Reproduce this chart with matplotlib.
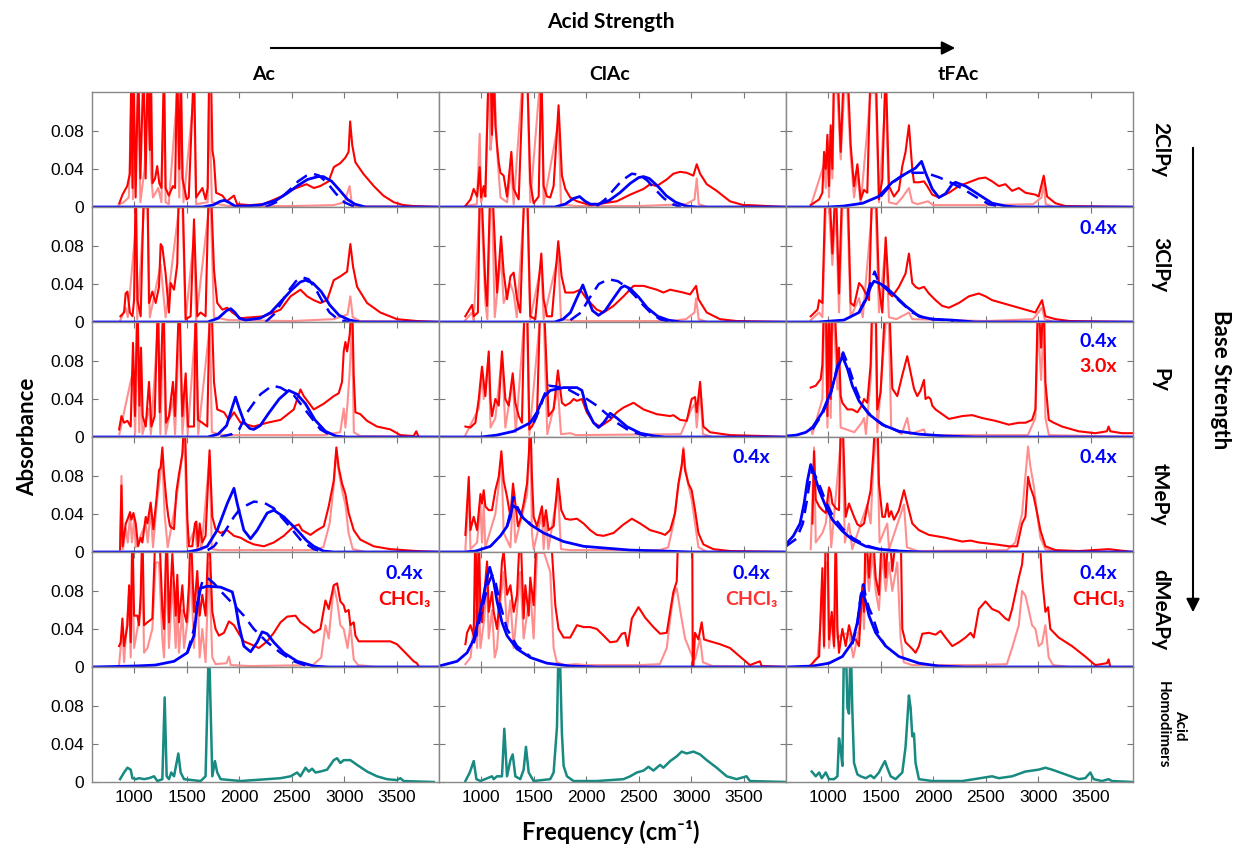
import numpy as np
import matplotlib.pyplot as plt

# Spectra: (frequency in cm-1, absorbance x 1000)
# values above 120 are off-scale peaks (clipped by the axis)

# ---------- Ac ----------
red_ac_2clpy = [(860,4),(890,13),(935,22),(960,35),(975,150),(985,20),(995,150),(1015,10),(1040,150),(1060,30),(1090,150),(1110,30),(1130,150),(1150,60),(1160,150),(1175,25),(1200,30),(1220,43),(1240,25),(1260,20),(1285,150),(1300,20),(1330,12),(1370,22),(1390,20),(1410,150),(1430,40),(1445,150),(1460,30),(1500,8),(1520,10),(1570,150),(1590,10),(1620,15),(1650,20),(1680,8),(1700,20),(1715,150),(1730,150),(1745,60),(1760,49),(1780,15),(1840,12),(1880,6),(1950,12),(1980,3),(2100,2),(2230,3),(2400,11),(2520,19),(2640,24),(2710,20),(2770,22),(2850,27),(2900,42),(2960,46),(3010,52),(3040,58),(3055,90),(3075,65),(3105,47),(3180,35),(3280,22),(3370,12),(3470,5),(3560,2),(3660,1),(3900,0)]
pink_ac_2clpy = [(850,2),(900,5),(950,10),(975,120),(990,8),(1040,120),(1060,5),(1100,40),(1130,120),(1160,36),(1180,10),(1230,20),(1260,5),(1285,120),(1300,5),(1330,3),(1410,120),(1430,10),(1445,120),(1470,5),(1570,120),(1590,3),(1700,5),(1715,120),(1740,5),(1800,3),(1900,1),(2500,1),(2900,2),(3000,5),(3050,22),(3070,4),(3100,1),(3900,0)]
blue_ac_2clpy = [(600,0),(1650,0),(1750,2),(1820,6),(1860,7),(1900,5),(1960,1),(2050,1),(2200,2),(2350,7),(2450,14),(2550,22),(2650,29),(2750,32),(2800,32),(2880,27),(2960,17),(3030,8),(3100,3),(3200,0),(3900,0)]
dash_ac_2clpy = [(2250,0),(2350,5),(2400,10),(2480,18),(2560,27),(2640,33),(2700,35),(2760,33),(2840,25),(2920,14),(3000,5),(3080,1),(3150,0)]

red_ac_3clpy = [(870,6),(905,10),(920,30),(937,32),(960,10),(985,6),(1000,23),(1016,150),(1032,23),(1063,6),(1095,150),(1127,150),(1142,20),(1174,32),(1206,20),(1237,37),(1253,82),(1269,79),(1300,51),(1332,10),(1348,41),(1380,34),(1411,61),(1427,150),(1459,150),(1491,3),(1538,6),(1570,108),(1601,6),(1633,10),(1680,6),(1712,150),(1728,150),(1760,55),(1791,20),(1840,13),(1886,15),(1934,10),(2013,4),(2234,6),(2393,13),(2488,27),(2582,34),(2646,27),(2709,23),(2772,20),(2836,23),(2899,44),(2962,48),(3026,53),(3057,82),(3083,58),(3121,37),(3216,20),(3342,10),(3500,3),(3690,1),(3900,0)]
pink_ac_3clpy = [(870,2),(920,15),(940,5),(1016,100),(1030,3),(1095,120),(1127,120),(1150,5),(1253,60),(1270,40),(1300,5),(1427,120),(1460,120),(1490,2),(1570,90),(1590,2),(1712,120),(1730,120),(1760,5),(1900,2),(2500,1),(2900,3),(3030,8),(3057,27),(3080,5),(3150,1),(3900,0)]
blue_ac_3clpy = [(600,0),(1700,0),(1800,4),(1880,12),(1920,14),(1960,10),(2000,4),(2060,2),(2200,4),(2300,10),(2400,22),(2500,34),(2580,42),(2630,44),(2700,41),(2780,32),(2860,18),(2950,7),(3050,2),(3150,0),(3900,0)]
dash_ac_3clpy = [(2250,0),(2330,8),(2400,20),(2470,33),(2540,43),(2600,47),(2660,45),(2720,36),(2790,22),(2860,10),(2950,2),(3050,0)]

red_ac_py = [(858,8),(880,22),(905,15),(937,17),(968,11),(990,99),(1009,22),(1032,150),(1051,33),(1066,94),(1082,22),(1111,11),(1142,58),(1165,11),(1196,22),(1228,150),(1244,26),(1279,150),(1304,15),(1332,22),(1370,58),(1389,22),(1430,150),(1459,22),(1491,67),(1513,11),(1570,11),(1586,150),(1608,18),(1649,15),(1696,11),(1722,150),(1734,150),(1760,58),(1791,29),(1855,26),(1902,18),(1950,26),(2013,15),(2076,13),(2139,11),(2266,15),(2393,18),(2519,29),(2582,50),(2614,43),(2709,29),(2804,35),(2899,43),(2946,46),(2978,58),(2994,90),(3010,100),(3026,90),(3051,108),(3073,150),(3089,65),(3105,26),(3152,24),(3216,17),(3310,11),(3437,8),(3532,2),(3659,1),(3684,6),(3706,0),(3900,0)]
pink_ac_py = [(860,3),(990,70),(1010,3),(1032,120),(1050,5),(1066,80),(1080,3),(1142,30),(1160,3),(1228,120),(1250,3),(1279,120),(1300,3),(1370,40),(1390,3),(1430,120),(1460,3),(1491,50),(1510,3),(1586,120),(1610,3),(1722,120),(1740,5),(1850,2),(2800,2),(2960,5),(2994,30),(3010,10),(3030,35),(3051,70),(3073,120),(3090,5),(3150,1),(3900,0)]
blue_ac_py = [(600,0),(1700,0),(1800,3),(1880,12),(1930,30),(1965,42),(2000,30),(2050,15),(2100,9),(2139,8),(2200,12),(2280,25),(2380,40),(2472,49),(2550,45),(2630,35),(2720,18),(2820,6),(2920,1),(3000,0),(3900,0)]
dash_ac_py = [(1820,0),(1930,3),(2000,8),(2076,26),(2140,36),(2203,45),(2313,54),(2393,52),(2519,44),(2646,26),(2772,8),(2867,2),(2950,0)]

red_ac_tmepy = [(867,3),(880,70),(892,6),(921,30),(937,34),(962,42),(975,34),(994,41),(1016,30),(1038,6),(1063,15),(1079,10),(1111,37),(1127,30),(1158,52),(1184,24),(1215,58),(1237,86),(1253,89),(1269,110),(1285,82),(1310,51),(1326,37),(1342,27),(1380,24),(1402,63),(1427,82),(1443,92),(1459,103),(1481,150),(1506,37),(1522,6),(1554,6),(1579,30),(1592,32),(1608,6),(1624,30),(1649,10),(1680,17),(1718,107),(1744,37),(1775,24),(1823,20),(1886,23),(1950,17),(2013,15),(2076,11),(2139,8),(2234,6),(2329,10),(2424,17),(2519,27),(2567,29),(2598,23),(2677,18),(2741,23),(2804,27),(2851,48),(2899,75),(2924,110),(2946,89),(2978,72),(3010,61),(3041,41),(3089,23),(3152,13),(3279,6),(3437,3),(3690,1),(3900,0)]
pink_ac_tmepy = [(867,2),(880,80),(895,3),(921,25),(940,10),(962,38),(980,10),(1000,35),(1016,5),(1111,30),(1130,10),(1158,45),(1180,5),(1215,50),(1253,85),(1269,100),(1290,40),(1320,5),(1402,55),(1443,90),(1481,120),(1506,5),(1580,25),(1600,3),(1624,20),(1640,2),(1718,100),(1740,3),(1800,2),(2700,2),(2800,5),(2860,30),(2899,70),(2924,105),(2946,85),(2978,65),(3010,50),(3040,20),(3080,3),(3200,0),(3900,0)]
blue_ac_tmepy = [(600,0),(1500,0),(1600,2),(1696,6),(1791,23),(1886,51),(1950,67),(1981,51),(2044,23),(2108,14),(2171,23),(2266,41),(2329,44),(2424,37),(2551,23),(2640,12),(2709,6),(2800,1),(2900,0),(3900,0)]
dash_ac_tmepy = [(1700,2),(1760,6),(1855,20),(1950,37),(2013,46),(2139,53),(2234,52),(2329,46),(2455,30),(2582,13),(2709,3),(2800,0)]

red_ac_dmeapy = [(858,22),(873,26),(889,51),(905,22),(937,44),(953,86),(968,26),(984,150),(1000,54),(1032,54),(1047,44),(1063,76),(1079,150),(1095,44),(1127,47),(1174,51),(1206,150),(1237,150),(1269,61),(1285,40),(1310,150),(1332,47),(1364,119),(1396,54),(1411,97),(1427,47),(1459,86),(1475,58),(1500,47),(1522,86),(1538,150),(1570,58),(1601,101),(1624,54),(1649,76),(1680,54),(1712,150),(1744,58),(1775,40),(1807,33),(1855,36),(1902,48),(1950,44),(1997,35),(2044,27),(2108,24),(2187,20),(2266,27),(2329,36),(2393,47),(2456,53),(2535,54),(2582,47),(2646,42),(2709,36),(2772,40),(2820,70),(2851,61),(2899,86),(2931,88),(2962,69),(2994,65),(3010,58),(3041,60),(3057,44),(3089,47),(3105,33),(3136,27),(3279,27),(3437,27),(3500,24),(3580,15),(3659,6),(3690,4),(3710,0),(3900,0)]
pink_ac_dmeapy = [(858,3),(889,40),(905,5),(953,80),(968,10),(984,110),(1000,20),(1063,60),(1079,110),(1095,15),(1127,20),(1174,40),(1206,110),(1237,110),(1269,30),(1285,10),(1310,110),(1332,20),(1364,90),(1396,20),(1411,70),(1427,15),(1459,60),(1475,20),(1522,60),(1538,110),(1570,20),(1601,90),(1624,10),(1649,40),(1680,5),(1712,110),(1744,10),(1775,3),(1880,4),(1902,11),(1920,2),(2100,1),(2700,2),(2780,10),(2820,44),(2851,30),(2899,85),(2931,70),(2962,44),(2994,40),(3030,20),(3057,44),(3089,8),(3130,2),(3300,0),(3900,0)]
blue_ac_dmeapy = [(600,0),(1000,1),(1200,2),(1380,6),(1506,15),(1570,33),(1601,65),(1633,83),(1696,85),(1823,84),(1934,79),(1965,65),(1997,44),(2044,22),(2108,16),(2171,26),(2218,37),(2266,35),(2329,26),(2424,15),(2551,6),(2709,1),(2850,0),(3900,0)]
dash_ac_dmeapy = [(1506,15),(1570,40),(1610,75),(1650,90),(1696,94),(1760,88),(1840,78),(1918,69),(2044,54),(2139,40),(2266,26),(2393,15),(2519,6),(2650,1)]

# ---------- ClAc ----------
red_clac_2clpy = [(850,1),(900,8),(930,19),(962,11),(987,42),(1000,10),(1025,22),(1041,11),(1073,150),(1089,150),(1104,76),(1120,150),(1136,86),(1152,65),(1168,47),(1184,36),(1215,33),(1247,11),(1288,58),(1310,19),(1358,8),(1405,150),(1437,150),(1468,26),(1500,4),(1548,11),(1573,150),(1595,22),(1627,11),(1658,10),(1690,22),(1737,107),(1769,33),(1801,19),(1848,10),(1912,6),(1975,4),(2038,2),(2165,4),(2291,6),(2418,13),(2545,19),(2608,24),(2671,22),(2766,29),(2829,35),(2893,37),(2956,36),(3019,33),(3051,45),(3083,35),(3146,24),(3241,17),(3367,6),(3494,2),(3541,2),(3900,0)]
pink_clac_2clpy = [(850,1),(960,3),(987,77),(1000,5),(1041,20),(1073,150),(1089,60),(1104,76),(1120,150),(1152,60),(1184,10),(1247,5),(1288,40),(1310,3),(1405,150),(1437,150),(1468,5),(1573,150),(1595,3),(1737,90),(1760,3),(1900,1),(2500,1),(2950,3),(3030,8),(3051,30),(3070,3),(3150,0),(3900,0)]
blue_clac_2clpy = [(600,0),(1700,0),(1800,3),(1880,9),(1937,11),(1990,6),(2040,3),(2120,3),(2220,7),(2320,15),(2420,25),(2500,31),(2545,32),(2600,30),(2680,22),(2760,12),(2850,5),(2950,1),(3050,0),(3900,0)]
dash_clac_2clpy = [(2100,1),(2180,8),(2260,18),(2340,28),(2434,35),(2500,34),(2580,28),(2660,18),(2740,9),(2820,3),(2900,0)]

red_clac_3clpy = [(850,6),(915,18),(930,6),(970,10),(990,150),(1000,150),(1041,38),(1057,17),(1089,150),(1104,150),(1152,31),(1190,90),(1215,52),(1247,24),(1279,48),(1310,52),(1342,24),(1373,10),(1414,150),(1437,150),(1468,6),(1516,3),(1573,72),(1595,24),(1627,6),(1674,6),(1734,85),(1766,48),(1801,31),(1880,31),(1943,34),(2006,24),(2101,13),(2165,10),(2260,17),(2355,27),(2450,38),(2545,38),(2671,34),(2734,31),(2798,34),(2924,31),(2988,29),(3045,38),(3067,24),(3146,10),(3272,3),(3430,1),(3900,0)]
pink_clac_3clpy = [(850,2),(915,10),(930,2),(990,130),(1000,130),(1041,20),(1060,3),(1089,130),(1104,130),(1130,5),(1190,70),(1215,20),(1280,40),(1310,30),(1340,5),(1414,130),(1437,130),(1468,3),(1573,60),(1595,3),(1734,70),(1760,3),(1900,1),(2800,1),(2950,3),(3030,10),(3045,25),(3070,3),(3150,0),(3900,0)]
blue_clac_3clpy = [(600,0),(1700,0),(1780,3),(1850,10),(1910,25),(1968,39),(2010,26),(2060,12),(2117,7),(2180,12),(2260,25),(2330,36),(2364,38),(2420,35),(2500,26),(2580,15),(2680,6),(2780,2),(2900,0),(3900,0)]
dash_clac_3clpy = [(1850,2),(1950,10),(2030,25),(2120,40),(2212,45),(2300,43),(2380,37),(2460,28),(2540,18),(2620,9),(2700,3),(2800,0)]

red_clac_py = [(851,11),(899,10),(946,15),(978,40),(994,58),(1009,74),(1025,58),(1041,43),(1073,90),(1089,40),(1104,22),(1136,40),(1168,33),(1199,90),(1231,40),(1263,33),(1301,67),(1326,36),(1358,22),(1389,15),(1415,150),(1437,150),(1459,8),(1484,11),(1532,22),(1565,150),(1595,150),(1642,22),(1690,29),(1731,70),(1769,36),(1801,33),(1848,36),(1880,40),(1912,38),(1959,40),(2006,26),(2070,15),(2133,11),(2228,18),(2291,26),(2355,31),(2450,36),(2545,29),(2671,24),(2798,22),(2829,23),(2893,18),(2956,17),(3003,40),(3035,42),(3051,26),(3083,58),(3114,11),(3178,5),(3367,2),(3684,1),(3900,0)]
pink_clac_py = [(851,2),(978,30),(994,50),(1009,70),(1025,40),(1073,85),(1090,10),(1136,20),(1199,85),(1231,10),(1301,60),(1330,5),(1415,130),(1437,130),(1459,2),(1565,130),(1595,130),(1630,3),(1731,50),(1760,3),(1850,4),(1900,2),(2900,3),(3003,30),(3035,35),(3051,10),(3083,50),(3110,3),(3200,0),(3900,0)]
blue_clac_py = [(600,0),(1000,0),(1150,2),(1310,6),(1468,15),(1532,26),(1595,42),(1658,49),(1785,52),(1912,52),(1959,49),(2006,29),(2070,15),(2117,10),(2165,15),(2228,25),(2291,20),(2386,11),(2513,4),(2650,1),(2750,0),(3900,0)]
dash_clac_py = [(1500,15),(1560,30),(1600,44),(1642,54),(1720,53),(1830,50),(1912,45),(2006,40),(2101,33),(2196,24),(2291,15),(2418,6),(2513,3),(2600,0)]

red_clac_tmepy = [(851,18),(883,79),(899,23),(930,37),(962,23),(994,61),(1009,51),(1025,65),(1041,48),(1073,44),(1104,44),(1136,65),(1168,79),(1193,106),(1215,75),(1247,58),(1279,37),(1304,72),(1326,51),(1351,27),(1373,34),(1405,51),(1437,72),(1456,106),(1468,150),(1484,79),(1500,37),(1532,27),(1579,48),(1595,27),(1617,44),(1642,23),(1690,27),(1731,77),(1763,44),(1801,35),(1848,34),(1912,35),(1975,30),(2038,23),(2101,18),(2165,17),(2260,20),(2355,29),(2434,35),(2513,30),(2608,23),(2703,20),(2750,18),(2798,23),(2845,41),(2877,72),(2909,92),(2924,108),(2940,86),(2972,72),(3003,65),(3035,44),(3067,20),(3114,8),(3209,3),(3367,1),(3900,0)]
pink_clac_tmepy = [(851,3),(883,70),(899,3),(962,10),(994,50),(1009,10),(1025,50),(1041,5),(1136,40),(1168,70),(1193,100),(1215,20),(1279,5),(1304,60),(1326,10),(1437,60),(1456,100),(1468,130),(1484,20),(1500,3),(1579,40),(1595,3),(1617,35),(1640,3),(1731,65),(1760,3),(1850,2),(2700,2),(2780,5),(2830,30),(2877,70),(2909,90),(2924,110),(2940,90),(2972,70),(3003,55),(3035,30),(3067,5),(3150,0),(3900,0)]
blue_clac_tmepy = [(600,0),(835,0),(950,1),(1089,6),(1184,17),(1247,27),(1279,37),(1300,49),(1342,46),(1389,37),(1468,29),(1595,20),(1785,11),(1975,6),(2196,4),(2420,2),(2730,1),(3000,0),(3900,0)]
dash_clac_tmepy = [(1247,27),(1279,42),(1310,58),(1342,48),(1389,38),(1468,30)]

red_clac_dmeapy = [(851,24),(867,36),(899,44),(930,33),(946,150),(962,33),(978,150),(994,58),(1009,47),(1025,69),(1057,111),(1073,58),(1104,79),(1120,58),(1152,40),(1184,83),(1199,111),(1215,122),(1247,76),(1279,86),(1310,58),(1342,76),(1373,150),(1405,51),(1421,86),(1453,54),(1468,94),(1500,65),(1532,150),(1658,150),(1706,65),(1737,40),(1785,31),(1848,31),(1912,44),(1975,42),(2038,42),(2101,40),(2165,33),(2228,26),(2291,27),(2339,35),(2370,36),(2395,22),(2434,51),(2497,63),(2560,52),(2639,42),(2703,35),(2766,36),(2798,58),(2829,79),(2861,90),(2877,150),(3008,150),(3013,1),(3019,1),(3035,36),(3067,29),(3098,47),(3120,29),(3178,27),(3272,24),(3367,20),(3462,11),(3557,2),(3652,6),(3668,1),(3900,0)]
pink_clac_dmeapy = [(851,3),(900,10),(946,60),(962,20),(978,80),(994,20),(1030,50),(1057,90),(1073,30),(1104,60),(1130,10),(1152,20),(1184,70),(1215,100),(1247,40),(1279,70),(1310,20),(1342,60),(1373,100),(1405,30),(1468,80),(1500,30),(1532,120),(1600,120),(1658,100),(1690,20),(1720,5),(1800,2),(1900,3),(2000,2),(2500,2),(2700,3),(2766,20),(2798,50),(2829,75),(2861,83),(2893,60),(2940,30),(3013,10),(3035,8),(3083,30),(3110,5),(3200,1),(3900,0)]
blue_clac_dmeapy = [(600,1),(772,6),(867,15),(930,29),(978,51),(1025,76),(1057,94),(1082,105),(1120,90),(1152,69),(1199,47),(1247,33),(1342,19),(1468,10),(1627,4),(1850,1),(2100,0),(3900,0)]
dash_clac_dmeapy = [(930,25),(978,45),(1025,68),(1070,88),(1104,97),(1140,88),(1184,65),(1247,40),(1342,22),(1468,11)]

# ---------- tFAc ----------
red_tfac_2clpy = [(835,2),(915,8),(946,15),(962,58),(978,40),(994,76),(1009,22),(1025,86),(1041,40),(1057,150),(1089,150),(1120,58),(1152,150),(1184,150),(1215,65),(1247,22),(1279,45),(1310,8),(1342,18),(1373,15),(1405,150),(1453,150),(1484,8),(1516,29),(1548,150),(1579,22),(1627,11),(1674,18),(1706,43),(1737,58),(1769,86),(1801,40),(1817,26),(1864,26),(1912,27),(1943,22),(1991,13),(2054,10),(2149,15),(2244,22),(2339,26),(2434,30),(2497,31),(2560,27),(2624,22),(2687,24),(2750,17),(2814,20),(2877,15),(2972,13),(3003,11),(3051,33),(3083,11),(3162,4),(3257,1),(3900,0)]
pink_tfac_2clpy = [(835,1),(962,45),(978,20),(994,70),(1009,10),(1025,80),(1041,30),(1057,120),(1089,120),(1120,50),(1152,120),(1184,120),(1215,55),(1247,10),(1279,35),(1310,3),(1405,120),(1453,120),(1484,5),(1548,120),(1579,5),(1650,3),(1706,10),(1769,20),(1800,5),(1850,3),(1950,6),(2000,2),(2500,2),(2950,3),(3030,10),(3051,25),(3070,3),(3150,0),(3900,0)]
blue_tfac_2clpy = [(600,0),(1000,0),(1150,1),(1330,4),(1480,11),(1610,26),(1737,35),(1832,41),(1889,48),(1927,36),(1991,19),(2054,10),(2117,14),(2181,24),(2212,26),(2307,22),(2434,13),(2560,4),(2690,1),(2800,0),(3900,0)]
dash_tfac_2clpy = [(1500,11),(1610,25),(1700,33),(1769,36),(1930,36),(2060,31),(2180,25),(2300,18),(2430,9),(2530,3),(2650,0)]

red_tfac_3clpy = [(835,6),(900,13),(915,23),(946,20),(978,150),(1009,150),(1041,72),(1073,150),(1104,30),(1136,150),(1184,150),(1215,20),(1247,17),(1295,41),(1326,37),(1358,30),(1390,23),(1420,150),(1453,150),(1484,37),(1516,10),(1548,89),(1579,30),(1611,27),(1674,37),(1737,51),(1769,72),(1801,41),(1832,37),(1864,35),(1912,37),(1959,30),(2022,23),(2085,17),(2149,15),(2244,20),(2339,27),(2434,30),(2497,27),(2560,23),(2655,20),(2750,17),(2877,13),(2972,10),(3035,23),(3067,6),(3162,3),(3300,1),(3900,0)]
pink_tfac_3clpy = [(835,2),(915,10),(946,5),(978,120),(1009,120),(1041,60),(1073,120),(1104,10),(1136,120),(1184,120),(1215,5),(1295,25),(1330,5),(1420,120),(1453,120),(1484,10),(1548,80),(1579,5),(1650,3),(1769,10),(1800,3),(2500,1),(2950,3),(3035,15),(3060,3),(3150,0),(3900,0)]
blue_tfac_3clpy = [(600,0),(900,0),(1150,2),(1294,10),(1358,23),(1405,37),(1437,43),(1484,41),(1548,37),(1643,27),(1737,17),(1864,6),(1990,3),(2180,2),(2400,0),(3900,0)]
dash_tfac_3clpy = [(1294,10),(1358,25),(1405,42),(1443,53),(1470,45),(1520,38),(1600,30),(1700,20),(1800,10),(1900,5),(2000,3),(2200,1)]

red_tfac_py = [(835,52),(883,54),(930,61),(946,76),(962,150),(978,150),(994,22),(1009,150),(1025,40),(1041,150),(1057,150),(1089,76),(1104,94),(1120,43),(1136,36),(1184,29),(1231,29),(1279,26),(1320,33),(1342,40),(1373,36),(1405,76),(1421,150),(1453,150),(1468,29),(1500,47),(1548,150),(1579,150),(1611,51),(1658,43),(1706,65),(1753,85),(1785,68),(1817,51),(1848,43),(1880,49),(1912,60),(1927,40),(1953,42),(1975,40),(1991,33),(2022,29),(2086,24),(2149,19),(2276,22),(2370,23),(2465,20),(2592,17),(2719,13),(2814,15),(2877,15),(2940,18),(2972,29),(2997,150),(3026,94),(3051,150),(3067,58),(3099,18),(3146,15),(3225,11),(3383,6),(3541,4),(3652,6),(3668,11),(3684,6),(3795,4),(3890,4)]
pink_tfac_py = [(835,10),(851,3),(946,40),(962,120),(978,120),(994,10),(1009,120),(1025,20),(1041,120),(1057,120),(1089,50),(1104,70),(1120,10),(1250,5),(1320,15),(1342,20),(1360,3),(1405,60),(1421,120),(1453,120),(1468,5),(1548,120),(1579,120),(1600,10),(1700,3),(1753,20),(1780,3),(1912,8),(1930,2),(2900,2),(2972,20),(2997,120),(3026,60),(3051,120),(3067,20),(3100,2),(3900,0)]
blue_tfac_py = [(600,1),(700,2),(790,5),(851,10),(946,26),(1025,47),(1089,72),(1136,85),(1184,72),(1231,54),(1294,38),(1389,24),(1516,13),(1674,6),(1864,3),(2117,1),(2400,0),(3900,0)]
dash_tfac_py = [(851,8),(946,24),(1025,45),(1089,75),(1143,89),(1190,76),(1263,51),(1326,33),(1420,21),(1550,11),(1700,5)]

red_tfac_tmepy = [(851,30),(867,106),(883,55),(915,48),(946,44),(978,41),(1009,68),(1025,63),(1041,51),(1073,46),(1104,44),(1123,150),(1136,150),(1168,37),(1199,51),(1247,37),(1279,29),(1310,27),(1342,30),(1373,48),(1405,65),(1430,103),(1453,150),(1468,150),(1484,72),(1516,37),(1541,37),(1563,51),(1579,37),(1601,43),(1627,34),(1674,44),(1722,65),(1753,51),(1801,30),(1864,23),(1959,18),(2117,15),(2276,11),(2355,12),(2434,10),(2592,8),(2719,6),(2798,6),(2845,30),(2877,37),(2902,79),(2924,68),(2956,58),(2988,41),(3019,23),(3067,6),(3162,2),(3383,1),(3668,3),(3900,0)]
pink_tfac_tmepy = [(835,3),(867,110),(883,10),(946,20),(978,30),(1009,60),(1030,5),(1123,120),(1136,120),(1160,10),(1199,30),(1230,3),(1373,50),(1405,30),(1430,90),(1453,120),(1468,120),(1490,10),(1563,30),(1580,3),(1722,50),(1750,5),(1850,1),(2700,2),(2780,10),(2845,40),(2877,80),(2902,111),(2924,90),(2956,70),(2988,40),(3019,15),(3067,3),(3200,0),(3900,0)]
blue_tfac_tmepy = [(600,8),(670,17),(734,30),(772,51),(804,75),(835,92),(867,82),(915,65),(978,48),(1041,34),(1136,22),(1231,13),(1358,6),(1484,3),(1670,1),(1900,0),(3900,0)]
dash_tfac_tmepy = [(600,6),(700,14),(760,30),(800,55),(830,78),(851,86),(880,80),(930,67),(978,53),(1041,39),(1136,25),(1231,15),(1358,7),(1484,3),(1670,1)]

red_tfac_dmeapy = [(835,2),(883,8),(915,11),(930,58),(946,104),(962,22),(978,150),(994,150),(1009,29),(1035,58),(1057,22),(1073,150),(1089,40),(1104,15),(1136,40),(1168,22),(1199,44),(1231,29),(1263,29),(1294,22),(1326,86),(1342,58),(1358,150),(1389,94),(1421,150),(1453,94),(1484,76),(1516,150),(1548,94),(1579,150),(1611,101),(1658,150),(1690,150),(1706,40),(1737,26),(1801,19),(1832,15),(1864,22),(1896,35),(1959,36),(2022,34),(2070,38),(2117,31),(2181,22),(2244,26),(2307,31),(2355,36),(2386,31),(2434,61),(2497,69),(2560,61),(2624,58),(2687,51),(2719,49),(2750,61),(2814,94),(2845,108),(2877,150),(3003,150),(3035,94),(3067,58),(3092,63),(3114,40),(3193,31),(3320,22),(3446,11),(3541,2),(3652,4),(3668,8),(3684,0),(3900,0)]
pink_tfac_dmeapy = [(835,1),(900,10),(930,50),(946,90),(962,20),(978,110),(994,110),(1009,20),(1035,50),(1057,20),(1073,100),(1089,30),(1136,35),(1199,35),(1240,10),(1294,40),(1326,80),(1342,40),(1358,120),(1389,80),(1421,120),(1453,80),(1484,60),(1516,120),(1548,80),(1579,110),(1611,80),(1658,110),(1690,30),(1720,5),(1800,2),(2400,2),(2700,3),(2750,20),(2814,44),(2845,80),(2877,75),(2908,60),(2940,44),(2972,40),(3003,22),(3035,25),(3067,44),(3098,10),(3140,2),(3300,0),(3900,0)]
blue_tfac_dmeapy = [(600,0),(851,1),(1009,4),(1136,11),(1231,26),(1279,47),(1310,72),(1326,79),(1358,69),(1389,54),(1453,36),(1548,22),(1674,11),(1864,4),(2054,1),(2300,0),(3900,0)]
dash_tfac_dmeapy = [(1231,24),(1279,45),(1310,75),(1335,87),(1360,73),(1389,62),(1421,54),(1480,34),(1548,22)]

# ---------- acid homodimers ----------
homo_ac = [(867,3),(905,10),(937,15),(968,13),(984,4),(1016,3),(1047,4),(1095,3),(1142,4),(1190,6),(1222,1),(1269,3),(1291,89),(1310,6),(1332,3),(1354,10),(1380,6),(1421,30),(1443,10),(1475,3),(1633,1),(1680,6),(1712,150),(1744,6),(1769,22),(1791,10),(1823,3),(2013,1),(2266,3),(2393,4),(2488,6),(2551,10),(2582,6),(2630,15),(2662,11),(2693,14),(2725,10),(2772,11),(2836,13),(2899,23),(2931,25),(2962,20),(2994,23),(3057,23),(3121,18),(3216,11),(3310,6),(3405,3),(3500,2),(3532,4),(3564,1),(3849,0)]
homo_clac = [(851,1),(893,10),(930,22),(956,3),(994,1),(1104,6),(1120,3),(1152,6),(1199,6),(1221,56),(1247,6),(1279,23),(1301,29),(1326,6),(1373,3),(1405,13),(1427,37),(1453,10),(1500,1),(1658,3),(1690,10),(1722,58),(1738,150),(1753,120),(1769,51),(1785,17),(1817,6),(1880,1),(2101,1),(2355,3),(2418,6),(2482,10),(2545,12),(2592,16),(2639,12),(2703,18),(2734,15),(2798,22),(2861,27),(2908,32),(2956,30),(3019,32),(3083,29),(3146,23),(3241,15),(3336,6),(3430,3),(3525,6),(3557,1),(3900,0)]
homo_tfac = [(845,11),(883,6),(915,10),(940,4),(978,10),(1009,3),(1057,3),(1089,6),(1104,46),(1120,34),(1136,17),(1152,150),(1168,150),(1184,78),(1199,72),(1215,150),(1231,75),(1247,20),(1279,8),(1310,6),(1358,4),(1405,7),(1437,4),(1484,10),(1516,17),(1541,22),(1563,15),(1595,6),(1642,3),(1706,10),(1737,37),(1769,91),(1785,78),(1801,48),(1817,51),(1832,20),(1864,3),(1991,1),(2276,1),(2560,6),(2624,4),(2750,6),(2877,11),(3003,13),(3067,15),(3130,13),(3257,8),(3383,3),(3446,4),(3494,10),(3526,3),(3605,1),(3668,3),(3700,1),(3900,0)]

acids = ['Ac', 'ClAc', 'tFAc']
bases = ['2ClPy', '3ClPy', 'Py', 'tMePy', 'dMeAPy']

red_curves = [[red_ac_2clpy, red_clac_2clpy, red_tfac_2clpy],
              [red_ac_3clpy, red_clac_3clpy, red_tfac_3clpy],
              [red_ac_py, red_clac_py, red_tfac_py],
              [red_ac_tmepy, red_clac_tmepy, red_tfac_tmepy],
              [red_ac_dmeapy, red_clac_dmeapy, red_tfac_dmeapy]]
pink_curves = [[pink_ac_2clpy, pink_clac_2clpy, pink_tfac_2clpy],
               [pink_ac_3clpy, pink_clac_3clpy, pink_tfac_3clpy],
               [pink_ac_py, pink_clac_py, pink_tfac_py],
               [pink_ac_tmepy, pink_clac_tmepy, pink_tfac_tmepy],
               [pink_ac_dmeapy, pink_clac_dmeapy, pink_tfac_dmeapy]]
blue_curves = [[blue_ac_2clpy, blue_clac_2clpy, blue_tfac_2clpy],
               [blue_ac_3clpy, blue_clac_3clpy, blue_tfac_3clpy],
               [blue_ac_py, blue_clac_py, blue_tfac_py],
               [blue_ac_tmepy, blue_clac_tmepy, blue_tfac_tmepy],
               [blue_ac_dmeapy, blue_clac_dmeapy, blue_tfac_dmeapy]]
dash_curves = [[dash_ac_2clpy, dash_clac_2clpy, dash_tfac_2clpy],
               [dash_ac_3clpy, dash_clac_3clpy, dash_tfac_3clpy],
               [dash_ac_py, dash_clac_py, dash_tfac_py],
               [dash_ac_tmepy, dash_clac_tmepy, dash_tfac_tmepy],
               [dash_ac_dmeapy, dash_clac_dmeapy, dash_tfac_dmeapy]]
homo_curves = [homo_ac, homo_clac, homo_tfac]

# scaling notes (row, col, text, colour, height in axes fraction)
notes = [(1, 2, '0.4x', 'blue', 0.81),
         (2, 2, '0.4x', 'blue', 0.83), (2, 2, '3.0x', 'red', 0.61),
         (3, 1, '0.4x', 'blue', 0.82), (3, 2, '0.4x', 'blue', 0.82),
         (4, 0, '0.4x', 'blue', 0.81), (4, 0, 'CHCl\u2083', 'red', 0.59),
         (4, 1, '0.4x', 'blue', 0.81), (4, 1, 'CHCl\u2083', '#ff3030', 0.59),
         (4, 2, '0.4x', 'blue', 0.81), (4, 2, 'CHCl\u2083', 'red', 0.59)]

bold = ['Lato', 'DejaVu Sans']
tickfont = ['Liberation Sans Narrow', 'Liberation Sans']


def draw(ax, pts, **kw):
    x, y = zip(*pts)
    ax.plot(x, np.array(y) / 1000.0, **kw)


fig, axes = plt.subplots(6, 3, figsize=(12.36, 8.52), dpi=100)
fig.subplots_adjust(left=92/1236, right=1133/1236, top=1-92/852, bottom=1-782/852,
                    hspace=0, wspace=0)

for r in range(6):
    for c in range(3):
        ax = axes[r, c]
        if r < 5:
            draw(ax, pink_curves[r][c], color='#ff8f8f', lw=1.5)
            draw(ax, red_curves[r][c], color='#ff0000', lw=1.5)
            draw(ax, dash_curves[r][c], color='#0000ff', lw=1.8, ls=(0, (5, 3)))
            draw(ax, blue_curves[r][c], color='#0000ff', lw=2)
        else:
            draw(ax, homo_curves[c], color='#178a82', lw=1.8)
        ax.set_xlim(600, 3900)
        ax.set_ylim(0, 0.121)
        ax.set_xticks([1000, 1500, 2000, 2500, 3000, 3500])
        ax.set_yticks([0, 0.04, 0.08])
        ax.tick_params(direction='in', top=True, right=True, length=4,
                       color='#777777', labelsize=12.5, pad=6)
        for s in ax.spines.values():
            s.set_color('#888888')
            s.set_linewidth(1)
        if c == 0:
            ax.set_yticklabels(['0', '0.04', '0.08'], family=tickfont)
        else:
            ax.set_yticklabels([])
        if r == 5:
            ax.set_xticklabels(['1000', '1500', '2000', '2500', '3000', '3500'],
                               family=tickfont)
        else:
            ax.set_xticklabels([])

for r, c, txt, col, yf in notes:
    axes[r, c].text(0.9, yf, txt, transform=axes[r, c].transAxes, color=col,
                    fontsize=14, fontweight='bold', family=bold,
                    ha='center', va='center')

# column and row headers
fig.text(611/1236, 1-22/852, 'Acid Strength', ha='center', va='center',
         fontsize=15, fontweight='bold', family=bold)
fig.add_artist(plt.matplotlib.patches.FancyArrowPatch(
    (268/1236, 1-48/852), (958/1236, 1-48/852), transform=fig.transFigure,
    arrowstyle='-|>', mutation_scale=20, lw=1.5, color='black'))
for x, name in zip([264, 610, 958], acids):
    fig.text(x/1236, 1-75/852, name, ha='center', va='center',
             fontsize=14, fontweight='bold', family=bold)

for r, name in enumerate(bases):
    yc = 1 - (92 + 115*r + 57.5)/852
    fig.text(1160/1236, yc, name, ha='center', va='center', rotation=-90,
             fontsize=15, fontweight='bold', family=bold)
fig.text(1171/1236, 1-725/852, 'Acid\nHomodimers', ha='center', va='center',
         rotation=-90, fontsize=11, fontweight='bold', family=bold,
         linespacing=1.3)

fig.add_artist(plt.matplotlib.patches.FancyArrowPatch(
    (1193/1236, 1-145/852), (1193/1236, 1-615/852), transform=fig.transFigure,
    arrowstyle='-|>', mutation_scale=20, lw=1.5, color='black'))
fig.text(1221/1236, 1-380/852, 'Base Strength', ha='center', va='center',
         rotation=-90, fontsize=16, fontweight='bold', family=bold)

fig.text(28/1236, 1-437/852, 'Absorbance', ha='center', va='center',
         rotation=90, fontsize=16, fontweight='bold', family=bold)
fig.text(611/1236, 1-832/852, 'Frequency (cm\u207b\u00b9)', ha='center',
         va='center', fontsize=17, fontweight='bold', family=bold)

fig.savefig('out.png', dpi=100)
